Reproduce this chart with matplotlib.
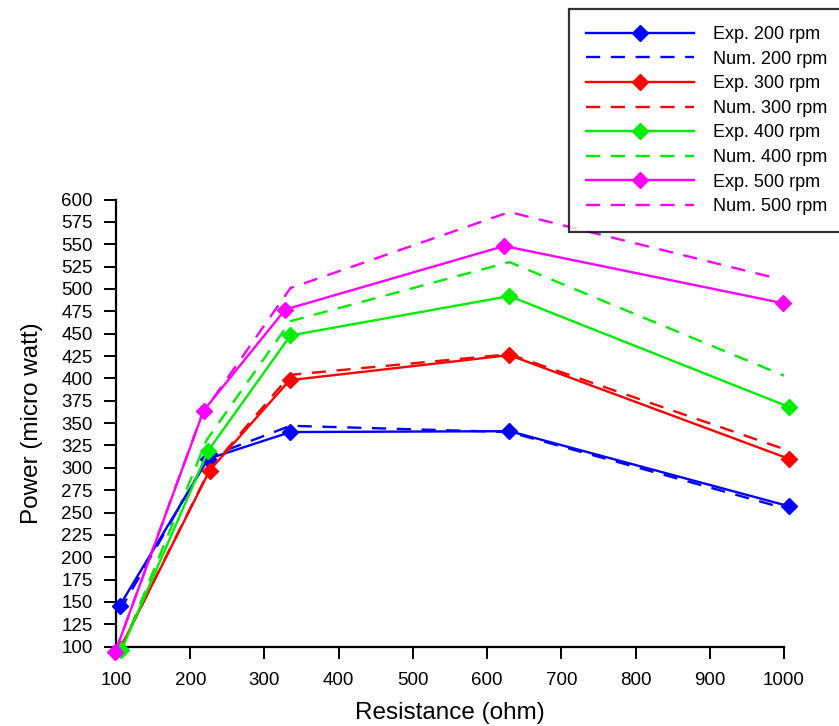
import matplotlib
matplotlib.use("Agg")
import matplotlib.pyplot as plt

plt.rcParams['font.family'] = ['Liberation Sans', 'DejaVu Sans']

# Experimental data (x = resistance in ohm, y = power in micro watt)
exp200_x = [105, 224, 335, 630, 1007]
exp200_y = [146, 310, 340, 341, 257]
exp300_x = [105, 226, 334, 630, 1007]
exp300_y = [97, 297, 398, 426, 310]
exp400_x = [107, 224, 335, 630, 1007]
exp400_y = [96, 319, 448, 492, 368]
exp500_x = [99, 218, 328, 623, 999]
exp500_y = [94, 364, 477, 548, 484]

# Numerical data
num200_x = [105, 224, 335, 630, 1000]
num200_y = [140, 312, 347, 340, 255]
num300_x = [105, 226, 335, 630, 1007]
num300_y = [97, 298, 404, 427, 319]
num400_x = [107, 222, 335, 630, 1000]
num400_y = [96, 331, 464, 530, 403]
num500_x = [99, 216, 335, 630, 994]
num500_y = [94, 360, 501, 586, 511]

colors = ['#0000ff', '#ff0000', '#00ee00', '#ff00ff']
labels_rpm = ['200', '300', '400', '500']

fig = plt.figure(figsize=(8.39, 7.26), dpi=100)
ax = fig.add_axes([0.1383, 0.1092, 0.7962, 0.616])

exp_sets = [(exp200_x, exp200_y), (exp300_x, exp300_y),
            (exp400_x, exp400_y), (exp500_x, exp500_y)]
num_sets = [(num200_x, num200_y), (num300_x, num300_y),
            (num400_x, num400_y), (num500_x, num500_y)]

for (ex, ey), (nx, ny), c, r in zip(exp_sets, num_sets, colors, labels_rpm):
    ax.plot(ex, ey, color=c, lw=1.7, marker='D', markersize=8,
            label=f'Exp. {r} rpm', clip_on=False, zorder=4)
    ax.plot(nx, ny, color=c, lw=1.7, ls=(0, (6, 4.5)),
            label=f'Num. {r} rpm', clip_on=False, zorder=3)

ax.set_xlim(100, 1000)
ax.set_ylim(100, 600)
ax.set_xticks(range(100, 1001, 100))
ax.set_yticks(range(100, 601, 25))
ax.tick_params(direction='out', length=8.4, width=1.4, labelsize=13.5,
               colors='black')
ax.tick_params(axis='x', pad=10)
ax.tick_params(axis='y', pad=8.5)
ax.spines['top'].set_visible(False)
ax.spines['right'].set_visible(False)
ax.spines['left'].set_linewidth(1.6)
ax.spines['bottom'].set_linewidth(1.6)

ax.set_xlabel('Resistance (ohm)', fontsize=17.5, labelpad=9)
ax.set_ylabel('Power (micro watt)', fontsize=17.5, labelpad=13)

leg = fig.legend(loc='upper left', bbox_to_anchor=(569 / 839, 1 - 9 / 726),
                 borderaxespad=0, fontsize=13, handlelength=6.0,
                 frameon=True, fancybox=False, edgecolor='black',
                 borderpad=0.95, labelspacing=0.42, handletextpad=1.05)
leg.get_frame().set_linewidth(1.6)

fig.savefig('out.png', dpi=100)
